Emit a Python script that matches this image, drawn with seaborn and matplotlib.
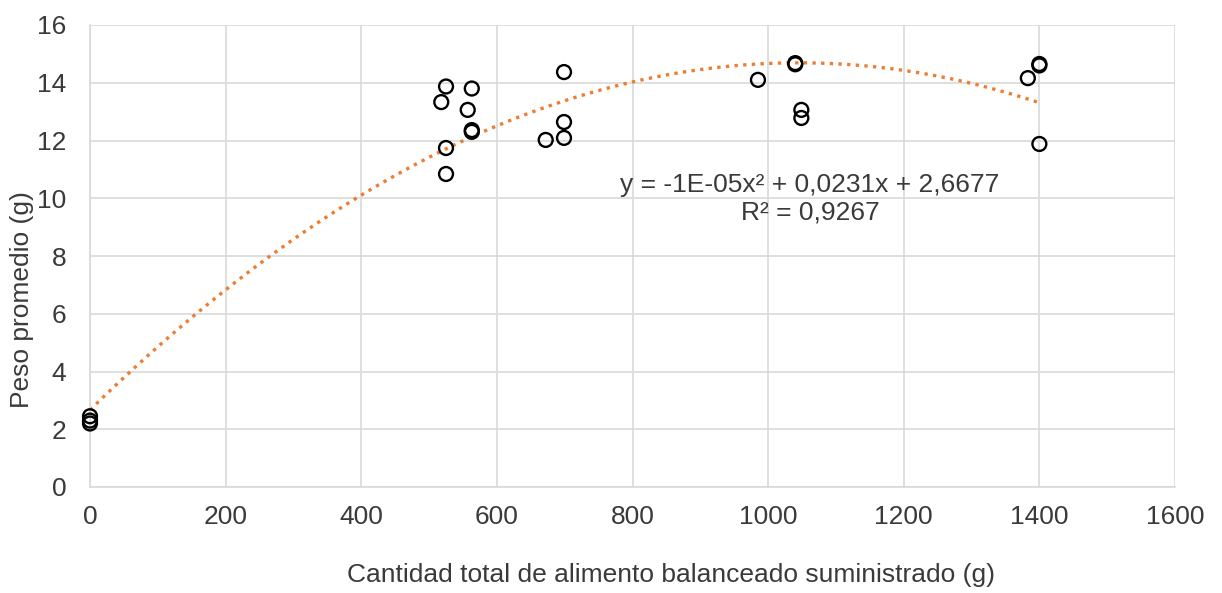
import numpy as np
import pandas as pd
import matplotlib
matplotlib.use("Agg")
import matplotlib.pyplot as plt
import seaborn as sns

# Total feed supplied (g) and mean weight (g) per sample
alimento = [0, 0, 0,
            518, 525, 525, 525, 557, 563, 563, 563,
            672, 699, 699, 699,
            985, 1040, 1040, 1049, 1049,
            1383, 1400, 1400, 1400]
peso = [2.45, 2.3, 2.2,
        13.33, 13.87, 11.74, 10.84, 13.06, 13.8, 12.36, 12.3,
        12.02, 14.37, 12.64, 12.09,
        14.1, 14.68, 14.64, 13.06, 12.78,
        14.16, 14.65, 14.6, 11.88]

# Polynomial trend line (order 2)
coef_a, coef_b, coef_c = -1.10e-05, 0.0230, 2.6677
ecuacion = "y = -1E-05x² + 0,0231x + 2,6677"
r2_texto = "R² = 0,9267"

df = pd.DataFrame({"alimento": alimento, "peso": peso})

sns.set_theme(style="whitegrid")
plt.rcParams["font.family"] = ["Liberation Sans", "DejaVu Sans"]

W, H = 1222, 593
fig = plt.figure(figsize=(W / 100, H / 100), dpi=100)
ax = fig.add_axes([90 / W, 1 - 487 / H, 1085 / W, 462 / H])

xs = np.linspace(0, 1400, 200)
trend = pd.DataFrame({"x": xs, "y": coef_a * xs**2 + coef_b * xs + coef_c})
sns.lineplot(data=trend, x="x", y="y", ax=ax, color="#ED7D31",
             linestyle=(0, (1, 1.6)), linewidth=2.4, zorder=2)

sns.scatterplot(data=df, x="alimento", y="peso", ax=ax, marker="o",
                s=100, facecolors="none", edgecolor="black", linewidth=1.7,
                zorder=3, clip_on=False)

fs = 19
txt_color = "#3a3a3a"

ax.set_xlim(0, 1600)
ax.set_ylim(0, 16)
ax.set_xticks(np.arange(0, 1601, 200))
ax.set_yticks(np.arange(0, 17, 2))
ax.grid(True, color="#d9d9d9", linewidth=1.2)
for side in ["top", "right"]:
    ax.spines[side].set_visible(False)
for side in ["left", "bottom"]:
    ax.spines[side].set_color("#d9d9d9")
    ax.spines[side].set_linewidth(1.2)
ax.tick_params(axis="both", length=0, labelsize=fs, colors=txt_color)
ax.tick_params(axis="x", pad=13)
ax.tick_params(axis="y", pad=17)

ax.set_xlabel("")
ax.set_ylabel("")
fig.text(671 / W, 1 - 575 / H,
         "Cantidad total de alimento balanceado suministrado (g)",
         ha="center", va="center", fontsize=fs, color=txt_color)
fig.text(22 / W, 1 - 300 / H, "Peso promedio (g)", rotation=90,
         ha="center", va="center", fontsize=fs, color=txt_color)

ax.text(1062, 10.46, ecuacion, ha="center", va="center", fontsize=fs, color=txt_color)
ax.text(1062, 9.52, r2_texto, ha="center", va="center", fontsize=fs, color=txt_color)

fig.savefig("out.png", dpi=100, facecolor="white")
